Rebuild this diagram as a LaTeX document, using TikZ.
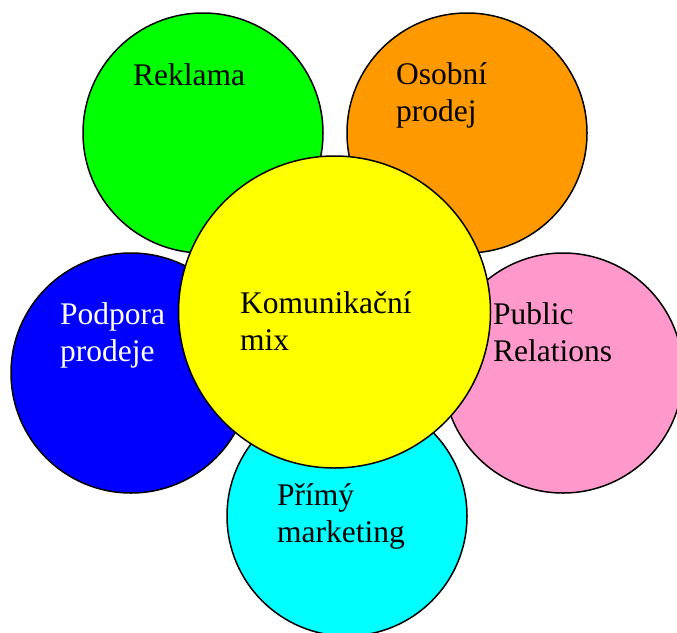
\documentclass[tikz,border=0pt]{standalone}
\usepackage{fontspec}
\setmainfont{Liberation Serif}
\definecolor{petalgreen}{HTML}{00FF00}
\definecolor{petalorange}{HTML}{FF9900}
\definecolor{petalblue}{HTML}{0000FF}
\definecolor{petalpink}{HTML}{FF99CC}
\definecolor{petalcyan}{HTML}{00FFFF}
\definecolor{coreyellow}{HTML}{FFFF00}
\begin{document}
\begin{tikzpicture}[x=1pt,y=-1pt,
  petal/.style={circle, draw=black, line width=1.5pt, inner sep=0pt, minimum size=240pt},
  core/.style={circle, draw=black, line width=1.5pt, inner sep=0pt, minimum size=312pt, fill=coreyellow},
  % two-line labels are placed by the baseline of their last line
  lbl/.style={anchor=base west, inner sep=0pt, align=left,
    font=\fontsize{31.5}{37.5}\selectfont}]
\useasboundingbox (0,0) rectangle (677,632);
\clip (0,0) rectangle (677,632);
% outer petals
\node[petal, fill=petalgreen]  (reklama)  at (203,133) {};
\node[petal, fill=petalorange] (osobni)   at (467,133) {};
\node[petal, fill=petalblue]   (podpora)  at (131,373) {};
\node[petal, fill=petalpink]   (pr)       at (563,373) {};
\node[petal, fill=petalcyan]   (primy)    at (347,516) {};
% centre of the flower
\node[core] (mix) at (334.5,312) {};
% labels
\node[lbl] (treklama) at (133,85)    {Reklama};
\node[lbl] (tosobni)  at (396,121.5) {Osobní\\prodej};
\node[lbl, text=white] (tpodpora) at (60,361.5) {Podpora\\prodeje};
\node[lbl] (tpr)      at (493,361.5) {Public\\Relations};
\node[lbl] (tprimy)   at (277,542.5) {Přímý\\marketing};
\node[lbl] (tmix)     at (240,350.5) {Komunikační\\mix};
\end{tikzpicture}
\end{document}
